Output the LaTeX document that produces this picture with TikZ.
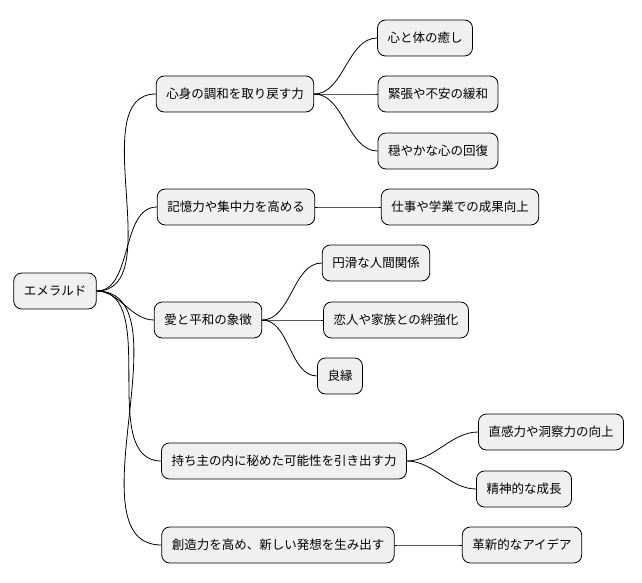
\documentclass[tikz,border=0pt]{standalone}
\usepackage{fontspec}
\setmainfont{Noto Sans CJK JP}
\begin{document}
\begin{tikzpicture}[x=1pt, y=-1pt,
    topic/.style={draw, thick, rounded corners=8pt, fill=black!6, minimum height=36pt,
      inner xsep=10pt, font=\fontsize{12.5}{15}\selectfont},
    link/.style={thick, out=0, in=180, looseness=0.9}]
    \useasboundingbox (0,0) rectangle (642,583);
    \node[topic] (emerald) at (55,291) {エメラルド};
    \node[topic] (harmony) at (235,94) {心身の調和を取り戻す力};
    \node[topic] (heal) at (425,38) {心と体の癒し};
    \node[topic] (relief) at (438,94) {緊張や不安の緩和};
    \node[topic] (calm) at (438,151) {穏やかな心の回復};
    \node[topic] (memory) at (236,207) {記憶力や集中力を高める};
    \node[topic] (work) at (460,207) {仕事や学業での成果向上};
    \node[topic] (love) at (208,320) {愛と平和の象徴};
    \node[topic] (smooth) at (376,263) {円滑な人間関係};
    \node[topic] (bond) at (396,320) {恋人や家族との絆強化};
    \node[topic] (match) at (340,376) {良縁};
    \node[topic] (potential) at (284,461) {持ち主の内に秘めた可能性を引き出す力};
    \node[topic] (insight) at (551,432) {直感力や洞察力の向上};
    \node[topic] (growth) at (524,489) {精神的な成長};
    \node[topic] (create) at (278,545) {創造力を高め、新しい発想を生み出す};
    \node[topic] (idea) at (522,545) {革新的なアイデア};

    \foreach \child in {harmony, memory, love, potential, create}
      \draw[link] (emerald.east) to (\child.west);
    \foreach \child in {heal, relief, calm}
      \draw[link] (harmony.east) to (\child.west);
    \draw[link] (memory.east) to (work.west);
    \foreach \child in {smooth, bond, match}
      \draw[link] (love.east) to (\child.west);
    \foreach \child in {insight, growth}
      \draw[link] (potential.east) to (\child.west);
    \draw[link] (create.east) to (idea.west);
\end{tikzpicture}
\end{document}
